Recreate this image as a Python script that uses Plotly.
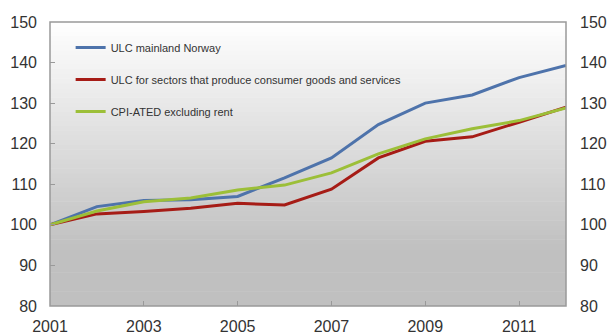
import plotly.graph_objects as go

years = [2001, 2002, 2003, 2004, 2005, 2006, 2007, 2008, 2009, 2010, 2011, 2012]
ulc_mainland = [100, 104.5, 106.0, 106.2, 107.0, 111.6, 116.5, 124.7, 130.0, 132.0, 136.3, 139.3]
ulc_consumer = [100, 102.7, 103.3, 104.1, 105.3, 104.9, 108.8, 116.5, 120.6, 121.7, 125.3, 129.0]
cpi_ated = [100, 103.4, 105.7, 106.6, 108.6, 109.8, 112.8, 117.5, 121.2, 123.7, 125.7, 128.8]
series_names = ["ULC mainland Norway",
                "ULC for sectors that produce consumer goods and services",
                "CPI-ATED excluding rent"]
colors = ["#4e73ab", "#a61c16", "#9cbf38"]
y_ticks = [80, 90, 100, 110, 120, 130, 140, 150]
x_ticks = [2001, 2003, 2005, 2007, 2009, 2011]

fig = go.Figure()
for i, (name, vals) in enumerate(zip(series_names, [ulc_mainland, ulc_consumer, cpi_ated])):
    fig.add_trace(go.Scatter(x=years, y=vals, mode="lines", name=name,
                             line=dict(color=colors[i], width=3),
                             legendgroup=f"g{i}"))
# invisible trace for right axis
fig.add_trace(go.Scatter(x=[years[0]], y=[ulc_mainland[0]], yaxis="y2",
                         mode="markers", marker=dict(opacity=0), showlegend=False,
                         hoverinfo="skip"))

# gradient background via stacked rectangles
n = 60
shapes = []
for k in range(n):
    y0 = k / n
    y1 = (k + 1) / n
    t = 1 - (y0 + y1) / 2  # 0 at top, 1 at bottom
    f = min(1.0, t / 0.8)
    g = int(round(255 - (255 - 192) * f))
    shapes.append(dict(type="rect", xref="paper", yref="paper", x0=0, x1=1,
                       y0=y0, y1=y1 + 0.002, fillcolor=f"rgb({g},{g},{g})",
                       line=dict(width=0), layer="below"))
shapes.append(dict(type="rect", xref="paper", yref="paper", x0=0, x1=1, y0=0, y1=1,
                   line=dict(color="#999999", width=1.5), layer="above"))

font = dict(family="Liberation Sans, Arial, sans-serif", size=16, color="#333333")
fig.update_layout(
    width=612, height=336,
    margin=dict(l=50, r=46, t=22, b=30, autoexpand=False),
    paper_bgcolor="white", plot_bgcolor="rgba(0,0,0,0)",
    shapes=shapes,
    font=font,
    showlegend=True,
    legend=dict(x=0.04, y=0.961, xanchor="left", yanchor="top",
                bgcolor="rgba(0,0,0,0)", tracegroupgap=13,
                font=dict(family="Liberation Sans, Arial, sans-serif", size=11, color="#333333")),
    xaxis=dict(range=[2001, 2012], tickvals=x_ticks, automargin=False,
               ticks="inside", ticklen=5, tickcolor="#999999", showgrid=False,
               zeroline=False, showline=False, tickfont=font, ticklabelstandoff=9),
    yaxis=dict(range=[80, 150], tickvals=y_ticks, ticks="inside", ticklen=5,
               tickcolor="#999999", showgrid=False, zeroline=False, showline=False,
               tickfont=font, ticklabelstandoff=12, automargin=False),
    yaxis2=dict(range=[80, 150], tickvals=y_ticks, overlaying="y", side="right",
                showgrid=False, zeroline=False, showline=False, ticks="",
                tickfont=font, ticklabelstandoff=13, automargin=False),
)
fig.write_html("out.html", config={"displayModeBar": False},
               post_script="document.body.style.margin='0';document.body.style.overflow='hidden';")
